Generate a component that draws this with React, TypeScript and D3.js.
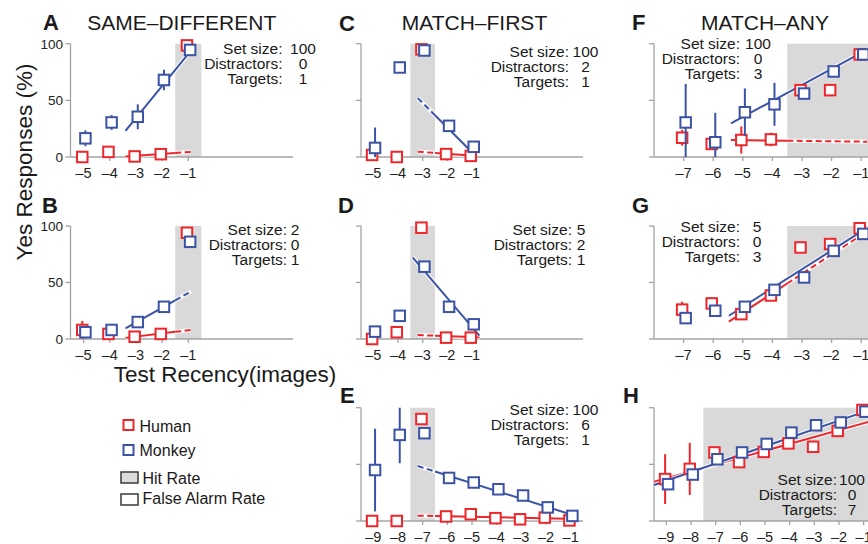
import React from 'react';
import * as d3 from 'd3';

const FONT = '"Liberation Sans", Arial, Helvetica, sans-serif';
const BLUE = '#3b53a4';
const RED = '#ec262b';
const BAND = '#d9d9d9';
const AXIS = '#a3a3a3';

// ---------- data ----------
const recency5 = [-5, -4, -3, -2, -1];
const recency7 = [-7, -6, -5, -4, -3, -2, -1];
const recency9 = [-9, -8, -7, -6, -5, -4, -3, -2, -1];
const yTicks = [0, 50, 100];

// A: SAME-DIFFERENT, set size 100
const humanA = [0, 4.5, 0.5, 2.5, 98.5];
const humanErrA = [0, 5, 0, 4, 0];
const monkeyA = [16.5, 30.5, 35.5, 68, 94.5];
const monkeyErrA = [7, 6.5, 11, 9, 2];
const fitHumanA = [-3.4, 0.5, -0.9, 4.5];
const dashHumanA = [-1.5, -0.9];
const fitMonkeyA = [-3.4, 23, -1, 91];
const dashMonkeyA = null;

// B: SAME-DIFFERENT, set size 2
const humanB = [8, 4.5, 2, 4.5, 94];
const humanErrB = [8, 5, 0, 0, 0];
const monkeyB = [6, 8, 15, 28.5, 86];
const monkeyErrB = [2, 2, 2, 2, 2];
const fitHumanB = [-3.4, 1, -0.9, 8];
const dashHumanB = [-1.5, -0.9];
const fitMonkeyB = [-3.4, 9.5, -0.9, 42];
const dashMonkeyB = [-1.5, -0.9];

// C: MATCH-FIRST, set size 100
const humanC = [1.8, 0, 95, 2.6, 1];
const humanErrC = [0, 0, 0, 0, 0];
const monkeyC = [8, 79, 94, 27.5, 9];
const monkeyErrC = [18, 5, 2, 5, 3];
const fitHumanC = [-3.2, 4.7, -0.9, 1];
const dashHumanC = [-3.2, -2.5];
const fitMonkeyC = [-3.2, 52, -0.9, 2];
const dashMonkeyC = [-3.2, -2.5];

// D: MATCH-FIRST, set size 5
const humanD = [0, 6, 98.5, 1.2, 1.2];
const humanErrD = [0, 0, 0, 0, 0];
const monkeyD = [6.5, 20.5, 64, 28.5, 13];
const monkeyErrD = [2, 2, 3, 2, 2];
const fitHumanD = [-3.2, 3.5, -0.7, 1.5];
const dashHumanD = [-3.2, -2.5];
const fitMonkeyD = [-3.4, 72, -0.7, 3];
const dashMonkeyD = null;

// E: MATCH-FIRST, 6 distractors
const humanE = [0, 0, 90, 4, 6, 2.5, 1.5, 3, 0.5];
const humanErrE = [0, 0, 0, 0, 0, 0, 0, 0, 0];
const monkeyE = [45, 76, 77.5, 38, 34, 28, 22.5, 12, 4.5];
const monkeyErrE = [36.5, 25, 2, 2, 2, 2, 2, 2, 2];
const fitHumanE = [-7.2, 4.7, -0.7, 1.8];
const dashHumanE = [-7.2, -6.5];
const fitMonkeyE = [-7.2, 48.5, -0.7, 3.8];
const dashMonkeyE = [-7.2, -6.5];

// F: MATCH-ANY, set size 100, 3 targets
const humanF = [17, 11.5, 15, 15.5, 59, 59, 90.5];
const humanErrF = [7, 3, 12, 6, 0, 0, 0];
const monkeyF = [30.5, 13, 39.5, 46.5, 56, 75.5, 90.5];
const monkeyErrF = [34, 26, 21, 19, 4, 2, 2];
const fitHumanF = [-5.4, 15, -0.8, 13.5];
const dashHumanF = [-3.5, -0.8];
const fitMonkeyF = [-5.4, 29.7, -1, 92];
const dashMonkeyF = null;

// G: MATCH-ANY, set size 5, 3 targets
const humanG = [26, 31.5, 22, 38.5, 81, 84, 98];
const humanErrG = [7, 5, 0, 3, 0, 3, 0];
const monkeyG = [18.5, 25, 28.5, 43.5, 54.5, 78, 93];
const monkeyErrG = [2, 2, 2, 2, 2, 2, 2];
const fitHumanG = [-5.47, 15.3, -1, 92];
const dashHumanG = [-3.5, -1];
const fitMonkeyG = [-5.47, 20.6, -1, 95];
const dashMonkeyG = null;

// H: MATCH-ANY, set size 100, 7 targets
const humanH = [37, 46, 60.5, 52, 61, 68.5, 65.5, 79.5, 98];
const humanErrH = [22, 23, 3, 3, 3, 3, 3, 3, 0];
const monkeyH = [32.5, 41, 54.5, 60.5, 68, 78, 84.5, 87, 96.5];
const monkeyErrH = [3, 3, 2, 2, 2, 2, 2, 2, 2];
const fitHumanH = [-9.5, 34.7, -0.5, 89.3];
const dashHumanH = null;
const fitMonkeyH = [-9.5, 31.8, -0.5, 100];
const dashMonkeyH = null;

const setSizes = [100, 2, 100, 5, 100, 100, 5, 100];
const distractors = [0, 0, 2, 2, 6, 0, 0, 0];
const targets = [1, 1, 1, 1, 1, 3, 3, 7];
const infoLabels = ['Set size:', 'Distractors:', 'Targets:'];

// ---------- layout ----------
const col1 = [70.5, 293];
const col2 = [361, 583];
const col3 = [654, 876];
const row1 = [43.7, 157];
const row2 = [226, 339];
const row3 = [407.7, 521];

const panels = [
  { letter: 'A', lx: 43, ly: 30, title: 'SAME\u2013DIFFERENT', col: col1, row: row1, domain: [-5.5, 3], ticks: recency5, yLabels: true, band: [-1.5, -0.5],
    info: { i: 0, cx: 282.5, vx: 303, by: 54 }, human: humanA, humanErr: humanErrA, monkey: monkeyA, monkeyErr: monkeyErrA,
    fitH: fitHumanA, dashH: dashHumanA, fitM: fitMonkeyA, dashM: dashMonkeyA },
  { letter: 'B', lx: 42, ly: 212.5, col: col1, row: row2, domain: [-5.5, 3], ticks: recency5, yLabels: true, band: [-1.5, -0.5],
    info: { i: 1, cx: 287, vx: 295, by: 235 }, human: humanB, humanErr: humanErrB, monkey: monkeyB, monkeyErr: monkeyErrB,
    fitH: fitHumanB, dashH: dashHumanB, fitM: fitMonkeyB, dashM: dashMonkeyB },
  { letter: 'C', lx: 339, ly: 30.5, title: 'MATCH\u2013FIRST', col: col2, row: row1, domain: [-5.5, 3.5], ticks: recency5, yLabels: false, band: [-3.5, -2.5],
    info: { i: 2, cx: 569, vx: 585.5, by: 57 }, human: humanC, humanErr: humanErrC, monkey: monkeyC, monkeyErr: monkeyErrC,
    fitH: fitHumanC, dashH: dashHumanC, fitM: fitMonkeyC, dashM: dashMonkeyC },
  { letter: 'D', lx: 338, ly: 213, col: col2, row: row2, domain: [-5.5, 3.5], ticks: recency5, yLabels: false, band: [-3.5, -2.5],
    info: { i: 3, cx: 572, vx: 581, by: 235 }, human: humanD, humanErr: humanErrD, monkey: monkeyD, monkeyErr: monkeyErrD,
    fitH: fitHumanD, dashH: dashHumanD, fitM: fitMonkeyD, dashM: dashMonkeyD },
  { letter: 'E', lx: 340, ly: 402.5, col: col2, row: row3, domain: [-9.5, -0.5], ticks: recency9, yLabels: false, band: [-7.5, -6.5],
    info: { i: 4, cx: 569, vx: 585.5, by: 415 }, human: humanE, humanErr: humanErrE, monkey: monkeyE, monkeyErr: monkeyErrE,
    fitH: fitHumanE, dashH: dashHumanE, fitM: fitMonkeyE, dashM: dashMonkeyE },
  { letter: 'F', lx: 632, ly: 29.5, title: 'MATCH\u2013ANY', col: col3, row: row1, domain: [-8, -0.5], ticks: recency7, yLabels: false, band: [-3.5, -0.5],
    info: { i: 5, cx: 740, vx: 758, by: 48.5 }, human: humanF, humanErr: humanErrF, monkey: monkeyF, monkeyErr: monkeyErrF,
    fitH: fitHumanF, dashH: dashHumanF, fitM: fitMonkeyF, dashM: dashMonkeyF },
  { letter: 'G', lx: 632, ly: 213, col: col3, row: row2, domain: [-8, -0.5], ticks: recency7, yLabels: false, band: [-3.5, -0.5],
    info: { i: 6, cx: 740, vx: 757, by: 232 }, human: humanG, humanErr: humanErrG, monkey: monkeyG, monkeyErr: monkeyErrG,
    fitH: fitHumanG, dashH: dashHumanG, fitM: fitMonkeyG, dashM: dashMonkeyG },
  { letter: 'H', lx: 623, ly: 403, col: col3, row: row3, domain: [-9.5, -0.5], ticks: recency9, yLabels: false, band: [-7.5, -0.5],
    info: { i: 7, cx: 837, vx: 852, by: 485 }, human: humanH, humanErr: humanErrH, monkey: monkeyH, monkeyErr: monkeyErrH,
    fitH: fitHumanH, dashH: dashHumanH, fitM: fitMonkeyH, dashM: dashMonkeyH },
];

function segments(fit: number[], dash: number[] | null) {
  const [xa, ya, xb, yb] = fit;
  const f = (v: number) => ya + ((yb - ya) * (v - xa)) / (xb - xa);
  let cuts = [xa, xb];
  if (dash) cuts.push(Math.max(xa, Math.min(xb, dash[0])), Math.max(xa, Math.min(xb, dash[1])));
  cuts = Array.from(new Set(cuts)).sort((a, b) => a - b);
  const segs: { pts: [number, number][]; dashed: boolean }[] = [];
  for (let k = 0; k < cuts.length - 1; k++) {
    const a = cuts[k], b = cuts[k + 1];
    if (b - a < 1e-6) continue;
    const mid = (a + b) / 2;
    const dashed = !!dash && mid > dash[0] && mid < dash[1];
    segs.push({ pts: [[a, f(a)], [b, f(b)]], dashed });
  }
  return segs;
}

function Panel({ p }: { p: any }) {
  const x = d3.scaleLinear().domain(p.domain).range(p.col);
  const y = d3.scaleLinear().domain([0, 100]).range([p.row[1], p.row[0]]);
  const line = d3.line<[number, number]>().x((d) => x(d[0])).y((d) => y(d[1]));
  const xs = p.ticks as number[];
  const sq = 10.5;
  const offH = -0.05, offM = 0.07;

  const drawFit = (fit: number[], dash: number[] | null, color: string, key: string) => {
    const segs = segments(fit, dash);
    return (
      <g key={key}>
        {segs.map((s, k) => (
          <path key={'h' + k} d={line(s.pts) || ''} stroke="#ffffff" strokeOpacity={0.85} strokeWidth={4.2} fill="none" />
        ))}
        {segs.map((s, k) => (
          <path key={'l' + k} d={line(s.pts) || ''} stroke={color} strokeWidth={2} fill="none"
            strokeDasharray={s.dashed ? '6,3.5' : undefined} />
        ))}
      </g>
    );
  };

  const drawSeries = (vals: number[], errs: number[], color: string, off: number, key: string) => (
    <g key={key}>
      {vals.map((v, k) => {
        const cx = x(xs[k] + off);
        const e = errs[k];
        return (
          <g key={k}>
            {e > 0 && (
              <line x1={cx} x2={cx} y1={y(Math.max(0, v - e))} y2={y(Math.min(100, v + e))} stroke={color} strokeWidth={2} />
            )}
            <rect x={cx - sq / 2} y={y(v) - sq / 2} width={sq} height={sq} fill="#ffffff" stroke={color} strokeWidth={2} />
          </g>
        );
      })}
    </g>
  );

  const info = p.info;
  const vals = [setSizes[info.i], distractors[info.i], targets[info.i]];

  return (
    <g>
      <rect x={x(p.band[0])} y={y(100)} width={x(p.band[1]) - x(p.band[0])} height={y(0) - y(100)} fill={BAND} />
      <line x1={p.col[0]} x2={p.col[0]} y1={y(100)} y2={y(0)} stroke={AXIS} strokeWidth={1.3} />
      <line x1={p.col[0]} x2={p.col[1]} y1={y(0)} y2={y(0)} stroke={AXIS} strokeWidth={1.3} />
      {yTicks.map((t) => (
        <g key={'yt' + t}>
          <line x1={p.col[0] - 5} x2={p.col[0]} y1={y(t)} y2={y(t)} stroke={AXIS} strokeWidth={1.3} />
          {p.yLabels && (
            <text x={p.col[0] - 7.5} y={y(t)} dy="0.36em" textAnchor="end" fontSize={13.5} fontFamily={FONT} fill="#222">{t}</text>
          )}
        </g>
      ))}
      {xs.map((t) => (
        <g key={'xt' + t}>
          <line x1={x(t)} x2={x(t)} y1={y(0)} y2={y(0) + 4} stroke={AXIS} strokeWidth={1.3} />
          <text x={x(t)} y={y(0) + 21} textAnchor="middle" fontSize={14.5} fontFamily={FONT} fill="#222">
            {'\u2013' + Math.abs(t)}
          </text>
        </g>
      ))}
      {drawFit(p.fitH, p.dashH, RED, 'fh')}
      {drawFit(p.fitM, p.dashM, BLUE, 'fm')}
      {drawSeries(p.human, p.humanErr, RED, offH, 'sh')}
      {drawSeries(p.monkey, p.monkeyErr, BLUE, offM, 'sm')}
      {infoLabels.map((lab, k) => (
        <text key={'inf' + k} y={info.by + k * 15} fontSize={15.5} fontFamily={FONT} fill="#1a1a1a">
          <tspan x={info.cx} textAnchor="end">{lab}</tspan>
          <tspan x={info.vx} textAnchor="middle">{vals[k]}</tspan>
        </text>
      ))}
      <text x={p.lx} y={p.ly} fontSize={22} fontWeight="bold" fontFamily={FONT} fill="#1a1a1a">{p.letter}</text>
      {p.title && (
        <text x={(p.col[0] + p.col[1]) / 2 + (p.letter === 'C' ? 2.5 : 0)} y={30} textAnchor="middle" fontSize={21} fontFamily={FONT} fill="#1a1a1a">{p.title}</text>
      )}
    </g>
  );
}

export default function App() {
  return (
    <svg width={868} height={544} viewBox="0 0 868 544" style={{ position: 'absolute', left: 0, top: 0, background: '#fff', overflow: 'hidden' }}>
      <rect x={0} y={0} width={868} height={544} fill="#ffffff" />
      {panels.map((p) => (
        <Panel key={p.letter} p={p} />
      ))}
      <text transform="translate(31.5,162) rotate(-90)" textAnchor="middle" fontSize={22.5} fontFamily={FONT} fill="#1a1a1a">Yes Responses (%)</text>
      <text x={225} y={381.5} textAnchor="middle" fontSize={22.5} fontFamily={FONT} fill="#1a1a1a">Test Recency(images)</text>
      <rect x={123.5} y={420} width={10} height={10} fill="#fff" stroke={RED} strokeWidth={2} />
      <text x={139.5} y={431.5} fontSize={16} fontFamily={FONT} fill="#1a1a1a">Human</text>
      <rect x={123.5} y={445} width={10} height={10} fill="#fff" stroke={BLUE} strokeWidth={2} />
      <text x={139.5} y={456.3} fontSize={16} fontFamily={FONT} fill="#1a1a1a">Monkey</text>
      <rect x={121} y={472} width={17} height={11} fill="#dcdcdc" stroke="#3a3a3a" strokeWidth={1.5} />
      <text x={142.5} y={484} fontSize={16} fontFamily={FONT} fill="#1a1a1a">Hit Rate</text>
      <rect x={121} y={494} width={17} height={11} fill="#ffffff" stroke="#3a3a3a" strokeWidth={1.5} />
      <text x={142.5} y={503.5} fontSize={16} fontFamily={FONT} fill="#1a1a1a">False Alarm Rate</text>
    </svg>
  );
}
